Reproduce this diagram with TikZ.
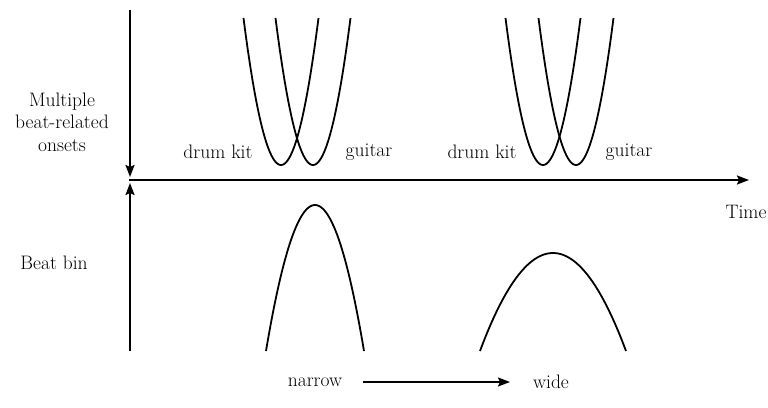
\documentclass[tikz,border=0pt]{standalone}
\usetikzlibrary{arrows.meta}
\tikzset{
  axis/.style={line width=1.9pt,-{Stealth[length=12pt,width=9pt,inset=2pt]}},
  curve/.style={line width=1.8pt,smooth},
  lbl/.style={font=\fontsize{19.5}{22.5}\selectfont,inner sep=0pt,align=center},
}
\begin{document}
\begin{tikzpicture}[x=1pt,y=-1pt]
\useasboundingbox (0,0) rectangle (768,407);
% coordinates
\coordinate (vtop) at (130,10);
\coordinate (vmidA) at (130,177);
\coordinate (vmidB) at (130,183);
\coordinate (vbot) at (130,351);
\coordinate (hstart) at (129,180);
\coordinate (hend) at (749,180);
\coordinate (astart) at (363,382);
\coordinate (aend) at (510,382);
% axes
\draw[axis] (vtop) -- (vmidA);
\draw[axis] (vbot) -- (vmidB);
\draw[axis] (hstart) -- (hend);
% onset parabolas
\foreach \c in {281,313,543,576}{
  \draw[curve] plot[domain=-37.5:37.5,samples=60] ({\c+\x},{165-147*(\x/37.5)^2});
}
% beat bins
\draw[curve] plot[domain=-49:49,samples=60] ({315+\x},{205+146*(\x/49)^2});
\draw[curve] plot[domain=-73:73,samples=60] ({553+\x},{253+98*(\x/73)^2});
% labels
\node[lbl] (multi) at (62,122) {Multiple\\beat-related\\onsets};
\node[lbl] (beatbin) at (54,263) {Beat bin};
\node[lbl] (time) at (746,212) {Time};
\node[lbl] (dk1) at (218,152) {drum kit};
\node[lbl] (g1) at (369,152) {guitar};
\node[lbl] (dk2) at (482,152) {drum kit};
\node[lbl] (g2) at (629,152) {guitar};
\node[lbl] (narrow) at (315,382) {narrow};
\node[lbl] (wide) at (551,382) {wide};
\draw[line width=1.8pt,-{Stealth[length=12pt,width=9pt,inset=2pt]}] (astart) -- (aend);
\end{tikzpicture}
\end{document}
